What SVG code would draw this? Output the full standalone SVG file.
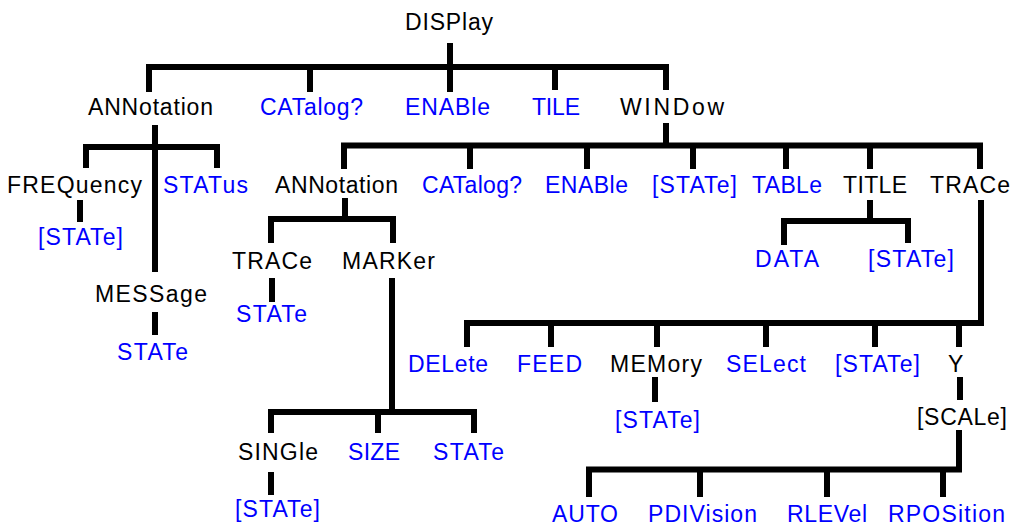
<svg xmlns="http://www.w3.org/2000/svg" width="1013" height="527" viewBox="0 0 1013 527">
<style>
text{font-family:"Liberation Sans",Arial,sans-serif;font-size:23px;}
.k{fill:#000;}
.u{fill:#0000ff;}
.c path{fill:none;stroke:#000;stroke-width:6;stroke-linejoin:miter;stroke-linecap:butt;}
</style>
<rect width="1013" height="527" fill="#fff"/>
<g class="c" id="connectors">
<path d="M450 43V92"/>
<path d="M149 92V67H666V90"/>
<path d="M310 67V92"/>
<path d="M555 67V90"/>
<path d="M155 125V272"/>
<path d="M86 168V147H217V168"/>
<path d="M80 200V222"/>
<path d="M155 312V335"/>
<path d="M666 123V145.5"/>
<path d="M344 169V145.5H980V169"/>
<path d="M470 145.5V169"/>
<path d="M587 145.5V169"/>
<path d="M693 145.5V169"/>
<path d="M786 145.5V169"/>
<path d="M870 145.5V169"/>
<path d="M345 198V219"/>
<path d="M271 243V219H393V243"/>
<path d="M272 278V302"/>
<path d="M392 278V412"/>
<path d="M271 433V412H474V433"/>
<path d="M378 412V433"/>
<path d="M271 472V495"/>
<path d="M870 200V221"/>
<path d="M784 245V221H908V243"/>
<path d="M981 200V323H467V347"/>
<path d="M551 323V347"/>
<path d="M657 323V347"/>
<path d="M766 323V347"/>
<path d="M875 323V347"/>
<path d="M959 323V347"/>
<path d="M655 377V402"/>
<path d="M960 377V400"/>
<path d="M959 430V469.5H589V497"/>
<path d="M700 469.5V497"/>
<path d="M827 469.5V497"/>
<path d="M943 469.5V497"/>
</g>
<g id="display"><text class="k" x="405" y="30" textLength="88">DISPlay</text></g>
<g id="annotation"><text class="k" x="88" y="115" textLength="125">ANNotation</text></g>
<g id="catalog"><text class="u" x="260" y="115" textLength="103">CATalog?</text></g>
<g id="enable"><text class="u" x="405" y="115" textLength="85">ENABle</text></g>
<g id="tile"><text class="u" x="532" y="115" textLength="48">TILE</text></g>
<g id="window"><text class="k" x="620" y="115" textLength="104">WINDow</text></g>
<g id="ann-frequency"><text class="k" x="7" y="193" textLength="135">FREQuency</text></g>
<g id="ann-status"><text class="u" x="163" y="193" textLength="85">STATus</text></g>
<g id="ann-freq-state"><text class="u" x="38" y="245" textLength="85">[STATe]</text></g>
<g id="ann-message"><text class="k" x="95" y="302" textLength="112">MESSage</text></g>
<g id="ann-msg-state"><text class="u" x="117" y="360" textLength="71">STATe</text></g>
<g id="win-annotation"><text class="k" x="275" y="193" textLength="123">ANNotation</text></g>
<g id="win-catalog"><text class="u" x="422" y="193" textLength="100">CATalog?</text></g>
<g id="win-enable"><text class="u" x="545" y="193" textLength="83">ENABle</text></g>
<g id="win-state"><text class="u" x="652" y="193" textLength="85">[STATe]</text></g>
<g id="win-table"><text class="u" x="752" y="193" textLength="70">TABLe</text></g>
<g id="win-title"><text class="k" x="843" y="193" textLength="64">TITLE</text></g>
<g id="win-trace"><text class="k" x="930" y="193" textLength="80">TRACe</text></g>
<g id="wa-trace"><text class="k" x="232" y="269" textLength="80">TRACe</text></g>
<g id="wa-marker"><text class="k" x="342" y="269" textLength="93">MARKer</text></g>
<g id="wa-trace-state"><text class="u" x="236" y="322" textLength="71">STATe</text></g>
<g id="wa-single"><text class="k" x="238" y="460" textLength="80">SINGle</text></g>
<g id="wa-size"><text class="u" x="348" y="460" textLength="52">SIZE</text></g>
<g id="wa-marker-state"><text class="u" x="433" y="460" textLength="71">STATe</text></g>
<g id="wa-single-state"><text class="u" x="235" y="517" textLength="85">[STATe]</text></g>
<g id="title-data"><text class="u" x="755" y="267" textLength="64">DATA</text></g>
<g id="title-state"><text class="u" x="868" y="267" textLength="86">[STATe]</text></g>
<g id="tr-delete"><text class="u" x="408" y="372" textLength="80">DELete</text></g>
<g id="tr-feed"><text class="u" x="517" y="372" textLength="65">FEED</text></g>
<g id="tr-memory"><text class="k" x="610" y="372" textLength="92">MEMory</text></g>
<g id="tr-select"><text class="u" x="726" y="372" textLength="80">SELect</text></g>
<g id="tr-state"><text class="u" x="835" y="372" textLength="85">[STATe]</text></g>
<g id="tr-y"><text class="k" x="948" y="372" textLength="20">Y</text></g>
<g id="mem-state"><text class="u" x="615" y="428" textLength="85">[STATe]</text></g>
<g id="y-scale"><text class="k" x="917" y="425" textLength="90">[SCALe]</text></g>
<g id="sc-auto"><text class="u" x="552" y="522" textLength="66">AUTO</text></g>
<g id="sc-pdivision"><text class="u" x="648" y="522" textLength="109">PDIVision</text></g>
<g id="sc-rlevel"><text class="u" x="787" y="522" textLength="80">RLEVel</text></g>
<g id="sc-rposition"><text class="u" x="888" y="522" textLength="117">RPOSition</text></g>
</svg>
